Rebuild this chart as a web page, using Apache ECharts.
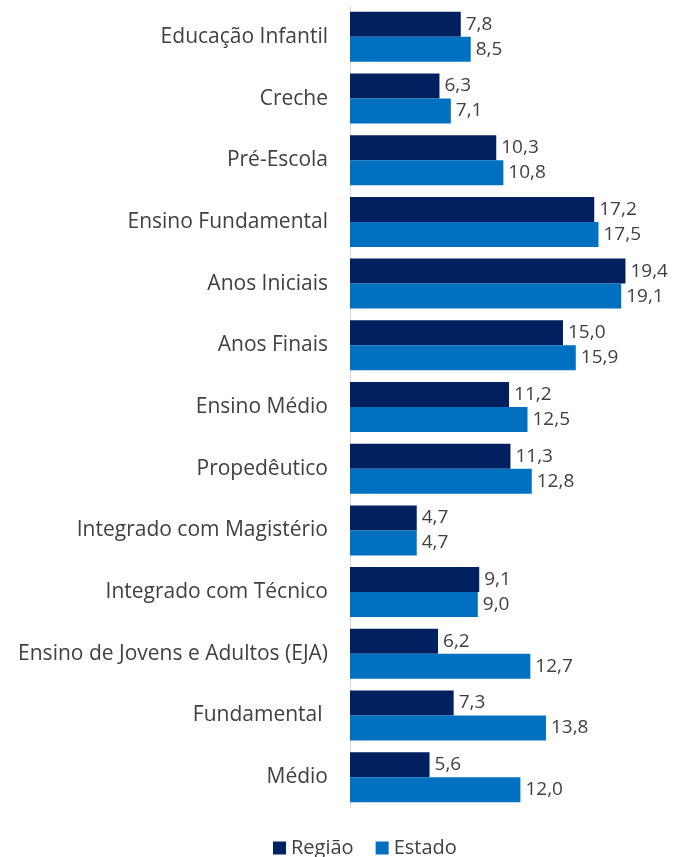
<!DOCTYPE html>
<html>
<head>
<meta charset="utf-8">
<script src="https://cdn.jsdelivr.net/npm/echarts@6/dist/echarts.min.js"></script>
<style>
  html, body { margin: 0; padding: 0; background: #fff; }
  #chart { width: 678px; height: 857px; }
</style>
</head>
<body>
<div id="chart"></div>
<script>
var categorias = ['Educação Infantil', 'Creche', 'Pré-Escola', 'Ensino Fundamental', 'Anos Iniciais',
    'Anos Finais', 'Ensino Médio', 'Propedêutico', 'Integrado com Magistério', 'Integrado com Técnico',
    'Ensino de Jovens e Adultos (EJA)', 'Fundamental ', 'Médio'];
var regiao = [7.8, 6.3, 10.3, 17.2, 19.4, 15.0, 11.2, 11.3, 4.7, 9.1, 6.2, 7.3, 5.6];
var estado = [8.5, 7.1, 10.8, 17.5, 19.1, 15.9, 12.5, 12.8, 4.7, 9.0, 12.7, 13.8, 12.0];

var fonte = '"Open Sans", "Noto Sans", sans-serif';

function rotulo(p) {
    return p.value.toFixed(1).replace('.', ',');
}

var chart = echarts.init(document.getElementById('chart'));
var option = {
    animation: false,
    grid: { left: 350, right: 44, top: 6, bottom: 49 },
    legend: {
        top: 833,
        left: 268,
        itemWidth: 13,
        itemHeight: 13,
        itemGap: 22,
        icon: 'rect',
        textStyle: { fontFamily: fonte, fontSize: 20, color: '#404040' },
        data: ['Região', 'Estado']
    },
    xAxis: {
        type: 'value',
        min: 0,
        max: 20,
        show: false
    },
    yAxis: {
        type: 'category',
        data: categorias,
        inverse: true,
        axisLine: { show: true, lineStyle: { color: '#d9d9d9', width: 1 } },
        axisTick: { show: false },
        axisLabel: { fontFamily: fonte, fontSize: 21, color: '#404040', margin: 22 }
    },
    series: [
        {
            name: 'Região',
            type: 'bar',
            data: regiao,
            barWidth: 25,
            barGap: '0%',
            itemStyle: { color: '#002060' },
            label: { show: true, position: 'right', distance: 5, formatter: rotulo,
                fontFamily: fonte, fontSize: 19, color: '#404040' }
        },
        {
            name: 'Estado',
            type: 'bar',
            data: estado,
            barWidth: 25,
            itemStyle: { color: '#0070c0' },
            label: { show: true, position: 'right', distance: 5, formatter: rotulo,
                fontFamily: fonte, fontSize: 19, color: '#404040' }
        }
    ]
};
chart.setOption(option);
</script>
</body>
</html>
